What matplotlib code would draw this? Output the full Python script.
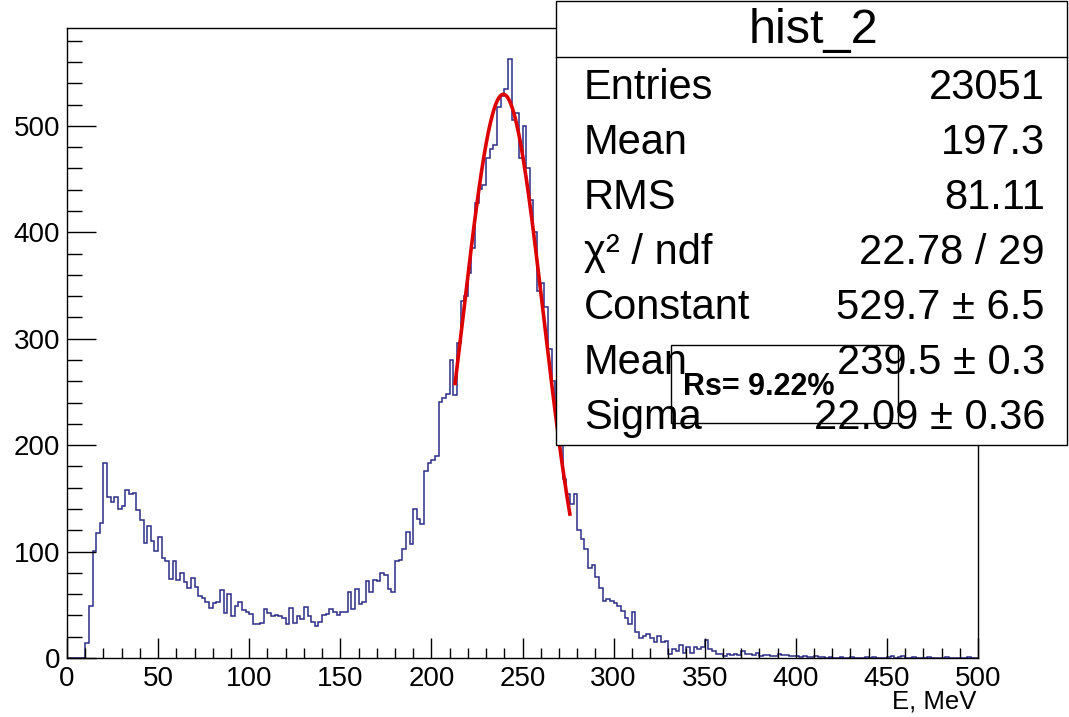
import matplotlib.pyplot as plt
import matplotlib.patches as mpatches
import numpy as np

plt.rcParams['font.family'] = ['Liberation Sans', 'DejaVu Sans']

# Histogramm hist_2: 250 Bins a 2 MeV von 0 bis 500 MeV
bin_lo, bin_hi, n_bins = 0, 500, 250
counts = [
    0, 0, 0, 0, 0, 14, 49, 101, 117, 127,
    183, 151, 147, 151, 140, 143, 158, 154, 155, 139,
    130, 108, 124, 110, 101, 114, 94, 91, 74, 91,
    73, 80, 71, 66, 75, 67, 58, 56, 53, 47,
    52, 53, 64, 42, 60, 39, 49, 53, 45, 43,
    41, 32, 32, 33, 46, 42, 39, 40, 39, 38,
    32, 47, 33, 39, 37, 48, 39, 34, 30, 34,
    40, 41, 46, 43, 40, 43, 43, 62, 46, 65,
    51, 53, 72, 62, 73, 72, 80, 78, 65, 62,
    91, 92, 102, 118, 107, 140, 131, 126, 176, 183,
    186, 190, 241, 244, 248, 280, 247, 296, 335, 340,
    362, 385, 428, 441, 444, 470, 478, 482, 518, 528,
    535, 563, 506, 512, 470, 500, 460, 430, 400, 345,
    352, 330, 290, 260, 232, 200, 168, 154, 145, 154,
    120, 112, 102, 85, 87, 76, 66, 54, 55, 54,
    52, 49, 44, 38, 32, 43, 24, 19, 21, 23,
    19, 15, 21, 15, 16, 4, 8, 7, 12, 5,
    10, 5, 10, 8, 10, 17, 8, 7, 4, 4,
    2, 4, 3, 4, 3, 7, 4, 4, 3, 5,
    2, 3, 3, 2, 2, 4, 3, 3, 2, 2,
    2, 1, 2, 1, 1, 2, 1, 1, 0, 1,
    0, 0, 1, 0, 0, 1, 0, 0, 0, 1,
    0, 1, 0, 0, 0, 1, 2, 0, 1, 2,
    0, 0, 1, 0, 0, 0, 1, 0, 0, 0,
    0, 1, 0, 0, 0, 0, 0, 1, 0, 0,
]

# Gauss-Fit Parameter
fit_const, fit_mean, fit_sigma = 529.7, 239.5, 22.09
fit_lo, fit_hi = 213, 276

stat_labels = ["Entries", "Mean", "RMS", "\u03c7\u00b2 / ndf", "Constant", "Mean", "Sigma"]
stat_values = ["23051", "197.3", "81.11", "22.78 / 29", "529.7 \u00b1 6.5",
               "239.5 \u00b1 0.3", "22.09 \u00b1 0.36"]

W, H = 1069, 717
fig = plt.figure(figsize=(W / 100, H / 100), dpi=100)
ax = fig.add_axes([67 / W, 59 / H, 911 / W, 630 / H])

edges = np.linspace(bin_lo, bin_hi, n_bins + 1)
ax.stairs(counts, edges, color='#2c2c85', lw=1.1)

xf = np.linspace(fit_lo, fit_hi, 300)
ax.plot(xf, fit_const * np.exp(-0.5 * ((xf - fit_mean) / fit_sigma) ** 2),
        color='#dd0000', lw=2.6)

ax.set_xlim(0, 500)
ax.set_ylim(0, 592)
ax.set_xticks(np.arange(0, 501, 50))
ax.set_xticks(np.arange(0, 501, 10), minor=True)
ax.set_yticks(np.arange(0, 501, 100))
ax.set_yticks(np.arange(0, 592, 20), minor=True)
ax.tick_params(axis='both', which='both', direction='in', top=False, right=False,
               labelsize=20, width=1, color='black')
ax.tick_params(axis='x', which='major', length=14.5, pad=6)
ax.tick_params(axis='x', which='minor', length=7.5)
ax.tick_params(axis='y', which='major', length=21, pad=5)
ax.tick_params(axis='y', which='minor', length=11)
for s in ax.spines.values():
    s.set_linewidth(1.0)

# Overlay in Pixelkoordinaten fuer Statistikbox und Texte
ov = fig.add_axes([0, 0, 1, 1])
ov.set_xlim(0, W)
ov.set_ylim(H, 0)
ov.axis('off')

ov.text(976, 708, "E, MeV", ha='right', va='baseline', fontsize=18.5)

ov.add_patch(mpatches.Rectangle((556, 1), 511, 444, facecolor='white',
                                edgecolor='black', lw=1.0))
ov.plot([556, 1067], [57, 57], color='black', lw=1.0)
ov.text(813, 43, "hist_2", ha='center', va='baseline', fontsize=35)
for i, (lab, val) in enumerate(zip(stat_labels, stat_values)):
    yb = 99 + i * 55
    ov.text(584, yb, lab, ha='left', va='baseline', fontsize=30)
    ov.text(1045, yb, val, ha='right', va='baseline', fontsize=30)

ov.add_patch(mpatches.Rectangle((671, 345), 227, 78, facecolor='white',
                                edgecolor='black', lw=1.0))
ov.text(683, 395, "Rs= 9.22%", ha='left', va='baseline', fontsize=22,
        fontweight='bold')

fig.savefig("out.png", dpi=100)
